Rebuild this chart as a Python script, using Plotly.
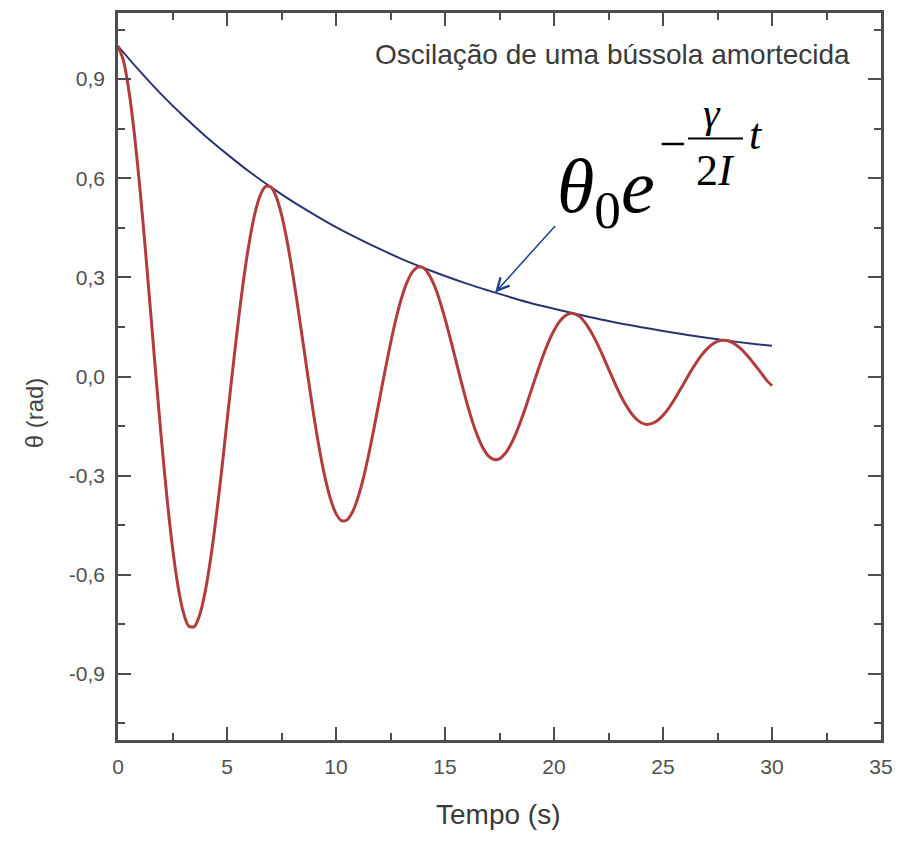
import plotly.graph_objects as go

# Damped compass oscillation, sampled every 0.25 s
t_osc = [i * 0.25 for i in range(121)]
theta_osc = [
    1.000, 0.956, 0.865, 0.735, 0.573, 0.389, 0.192, -0.006,
    -0.196, -0.369, -0.517, -0.634, -0.714, -0.756, -0.757, -0.721,
    -0.651, -0.551, -0.427, -0.287, -0.136, 0.014, 0.157, 0.288,
    0.398, 0.485, 0.544, 0.574, 0.574, 0.545, 0.490, 0.412,
    0.317, 0.210, 0.097, -0.017, -0.126, -0.224, -0.307, -0.371,
    -0.415, -0.436, -0.434, -0.411, -0.368, -0.309, -0.236, -0.154,
    -0.068, 0.018, 0.100, 0.174, 0.236, 0.284, 0.316, 0.331,
    0.329, 0.310, 0.277, 0.231, 0.175, 0.113, 0.048, -0.017,
    -0.079, -0.135, -0.181, -0.217, -0.241, -0.251, -0.249, -0.234,
    -0.208, -0.173, -0.130, -0.083, -0.033, 0.016, 0.063, 0.105,
    0.139, 0.166, 0.183, 0.191, 0.188, 0.177, 0.156, 0.129,
    0.097, 0.061, 0.023, -0.014, -0.050, -0.081, -0.107, -0.127,
    -0.140, -0.145, -0.142, -0.133, -0.117, -0.097, -0.072, -0.044,
    -0.016, 0.013, 0.039, 0.063, 0.082, 0.097, 0.106, 0.110,
    0.108, 0.100, 0.088, 0.072, 0.053, 0.032, 0.011, -0.011,
    -0.028,
]

# Exponential envelope theta0 * exp(-gamma t / 2I), sampled every 1 s
t_env = [0, 1, 2, 3, 4, 5, 6, 7, 8, 9, 10, 11, 12, 13, 14, 15, 16, 17, 18, 19, 20,
         21, 22, 23, 24, 25, 26, 27, 28, 29, 30]
theta_env = [1.000, 0.924, 0.853, 0.788, 0.728, 0.673, 0.621, 0.574, 0.530, 0.490,
             0.452, 0.418, 0.386, 0.356, 0.329, 0.304, 0.281, 0.260, 0.240, 0.221,
             0.205, 0.189, 0.175, 0.161, 0.149, 0.138, 0.127, 0.117, 0.108, 0.100,
             0.093]

x_ticks = [0, 5, 10, 15, 20, 25, 30, 35]
x_tick_labels = ["0", "5", "10", "15", "20", "25", "30", "35"]
y_ticks = [-0.9, -0.6, -0.3, 0.0, 0.3, 0.6, 0.9]
y_tick_labels = ["-0,9", "-0,6", "-0,3", "0,0", "0,3", "0,6", "0,9"]

W, H = 903, 842
L, R, T, B = 118, 22, 10, 102
PW, PH = W - L - R, H - T - B


def px(x):
    return (x - L) / PW


def py(y):
    return (H - B - y) / PH


AX = "#4d4d4d"
SANS = "Liberation Sans, Arial, sans-serif"
SERIF = "Liberation Serif, Times New Roman, serif"

fig = go.Figure()
fig.add_trace(go.Scatter(x=t_env, y=theta_env, mode="lines",
                         line=dict(color="#2a3570", width=2, shape="spline"),
                         hoverinfo="skip"))
fig.add_trace(go.Scatter(x=t_osc, y=theta_osc, mode="lines",
                         line=dict(color="#b23b3b", width=3, shape="spline",
                                   smoothing=0.8),
                         hoverinfo="skip"))

axis_common = dict(
    showline=True, linecolor=AX, linewidth=2.5, mirror="allticks",
    ticks="inside", ticklen=13, tickwidth=2, tickcolor=AX,
    showgrid=False, zeroline=False,
    tickfont=dict(family=SANS, size=21, color="#505050"),
)

fig.update_xaxes(range=[0, 35], tickmode="array", tickvals=x_ticks,
                 ticktext=x_tick_labels, ticklabelstandoff=6,
                 minor=dict(dtick=2.5, tick0=0, ticks="inside", ticklen=7,
                            tickwidth=2, tickcolor=AX, showgrid=False),
                 **axis_common)
fig.update_yaxes(range=[-1.1, 1.1], tickmode="array", tickvals=y_ticks,
                 ticktext=y_tick_labels, ticklabelstandoff=6,
                 minor=dict(dtick=0.15, tick0=0.15, ticks="inside", ticklen=7,
                            tickwidth=2, tickcolor=AX, showgrid=False),
                 **axis_common)

ann = []
# chart title inside the frame
ann.append(dict(text="Oscilação de uma bússola amortecida", xref="paper", yref="paper",
                x=px(852), y=py(52), xanchor="right", yanchor="middle", showarrow=False,
                font=dict(family=SANS, size=28, color="#3a3a3a")))
# axis titles
ann.append(dict(text="Tempo (s)", xref="paper", yref="paper", x=px(498), y=py(815),
                xanchor="center", yanchor="middle", showarrow=False,
                font=dict(family=SANS, size=28, color="#3a3a3a")))
ann.append(dict(text="θ (rad)", xref="paper", yref="paper", x=px(34), y=py(412),
                xanchor="center", yanchor="middle", textangle=-90, showarrow=False,
                font=dict(family=SANS, size=24, color="#444444")))
# arrow pointing to the envelope
ann.append(dict(text=" ", x=17.3, y=0.254, xref="x", yref="y", showarrow=True,
                ax=63, ay=-70, axref="pixel", ayref="pixel",
                arrowhead=5, arrowsize=1.6, arrowwidth=1.5, arrowcolor="#1c3f8f"))
# envelope formula
ann.append(dict(text="<i>θ</i><sub>0</sub><i>e</i>", xref="paper", yref="paper",
                x=px(555), y=py(190), xanchor="left", yanchor="middle", showarrow=False,
                font=dict(family=SERIF, size=76, color="black")))
ann.append(dict(text="−", xref="paper", yref="paper", x=px(672), y=py(141),
                xanchor="center", yanchor="middle", showarrow=False,
                font=dict(family=SERIF, size=48, color="black")))
ann.append(dict(text="<i>γ</i>", xref="paper", yref="paper", x=px(712), y=py(110),
                xanchor="center", yanchor="middle", showarrow=False,
                font=dict(family=SERIF, size=42, color="black")))
ann.append(dict(text="2<i>I</i>", xref="paper", yref="paper", x=px(715), y=py(168),
                xanchor="center", yanchor="middle", showarrow=False,
                font=dict(family=SERIF, size=44, color="black")))
ann.append(dict(text="<i>t</i>", xref="paper", yref="paper", x=px(756), y=py(132),
                xanchor="center", yanchor="middle", showarrow=False,
                font=dict(family=SERIF, size=44, color="black")))

shapes = [dict(type="line", xref="paper", yref="paper", x0=px(688), x1=px(743),
               y0=py(136), y1=py(136), line=dict(color="black", width=2))]

fig.update_layout(
    width=W, height=H, margin=dict(l=L, r=R, t=T, b=B),
    paper_bgcolor="white", plot_bgcolor="white", showlegend=False,
    annotations=ann, shapes=shapes,
)

fig.write_html("out.html")
